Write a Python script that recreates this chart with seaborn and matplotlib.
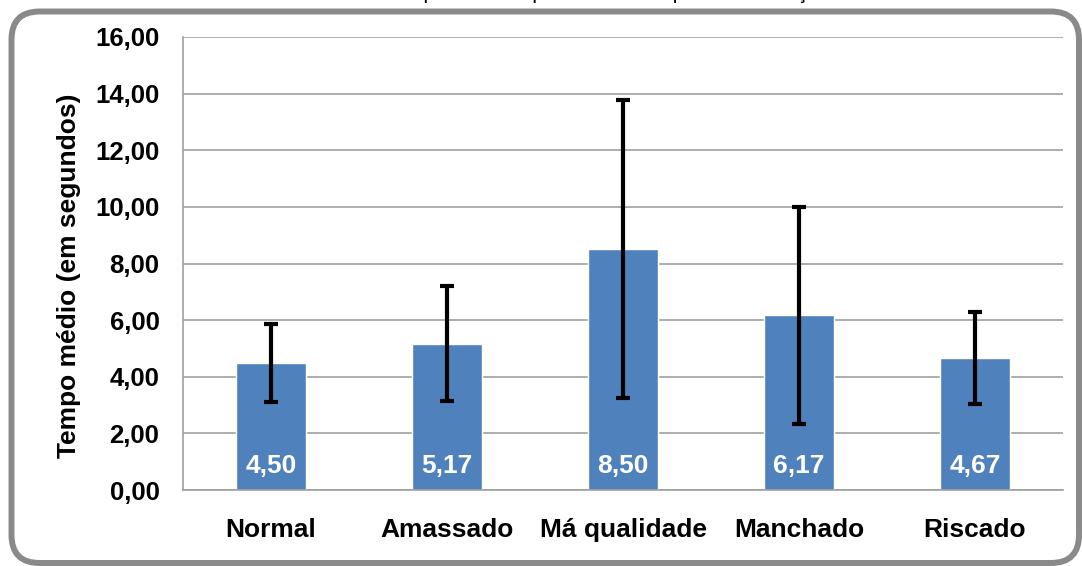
import matplotlib
matplotlib.use('Agg')
import matplotlib.pyplot as plt
from matplotlib.patches import FancyBboxPatch
import seaborn as sns
import pandas as pd

# dados do grafico
categorias = ['Normal', 'Amassado', 'Má qualidade', 'Manchado', 'Riscado']
medias = [4.50, 5.17, 8.50, 6.17, 4.67]
desvios = [1.38, 2.04, 5.26, 3.83, 1.63]
yticks = [0, 2, 4, 6, 8, 10, 12, 14, 16]
titulo = 'Gráfico 4 - Média do tempo de cada padrão de cheque na realização dos testes'

sns.set_style('white')
plt.rcParams['font.family'] = ['Liberation Sans', 'DejaVu Sans']
plt.rcParams['font.weight'] = 'bold'
plt.rcParams['text.color'] = 'black'
plt.rcParams['xtick.color'] = 'black'
plt.rcParams['ytick.color'] = 'black'
plt.rcParams['axes.labelcolor'] = 'black'

df = pd.DataFrame({'padrao': categorias, 'tempo': medias})

W, H = 1082, 566
fig = plt.figure(figsize=(W / 100, H / 100), dpi=100)
ax = fig.add_axes([183 / W, 1 - 490 / H, 880 / W, 453 / H])

# moldura arredondada (em pixels)
x0, y0, x1, y1 = 11.5, 11.5, 1079, 563
moldura = FancyBboxPatch((x0 / W, 1 - y1 / H), (x1 - x0) / W, (y1 - y0) / H,
                         boxstyle='round,pad=0,rounding_size=0.026',
                         transform=fig.transFigure, facecolor='none',
                         edgecolor='#8a8a8a', linewidth=4.3, zorder=-1,
                         mutation_aspect=W / H)
fig.patches.append(moldura)

# titulo cortado no topo
fig.text(0.52, 1 + 1 / H, titulo, ha='center', va='baseline',
         fontsize=15, fontweight='normal', color='black')

sns.barplot(data=df, x='padrao', y='tempo', color='#4f81bd', saturation=1,
            width=0.4, errorbar=None, ax=ax, zorder=2)
ax.errorbar(x=categorias, y=medias, yerr=desvios, fmt='none', ecolor='black',
            elinewidth=3, capsize=4.7, capthick=3, zorder=3)

for i, v in enumerate(medias):
    ax.text(i, 0.6, f'{v:.2f}'.replace('.', ','), ha='center', va='baseline',
            color='white', fontsize=19, fontweight='bold', zorder=4)

ax.set_ylim(0, 16)
ax.set_xlim(-0.5, len(categorias) - 0.5)
ax.set_yticks(yticks)
ax.set_yticklabels([f'{t:.2f}'.replace('.', ',') for t in yticks],
                   fontsize=18.5, fontweight='bold')
ax.yaxis.grid(True, color='#a0a0a0', linewidth=1.2, zorder=0)
ax.set_axisbelow(True)
ax.tick_params(axis='y', length=8, width=1, color='#a0a0a0', direction='out', pad=9)

ax.set_xticks(range(len(categorias)))
ax.set_xticklabels(categorias, fontsize=19, fontweight='bold')
ax.set_xticks([i - 0.5 for i in range(len(categorias) + 1)], minor=True)
ax.tick_params(axis='x', which='major', length=0, pad=20)
ax.tick_params(axis='x', which='minor', length=8, width=1, color='#a0a0a0',
               direction='out')
ax.set_xlabel('')
ax.set_ylabel('Tempo médio (em segundos)', fontsize=19, fontweight='bold', labelpad=10)
ax.yaxis.label.set_y(0.472)

for s in ['top', 'right']:
    ax.spines[s].set_visible(False)
for s in ['left', 'bottom']:
    ax.spines[s].set_color('#a0a0a0')
    ax.spines[s].set_linewidth(1.2)

plt.savefig('out.png', dpi=100)
plt.close()
